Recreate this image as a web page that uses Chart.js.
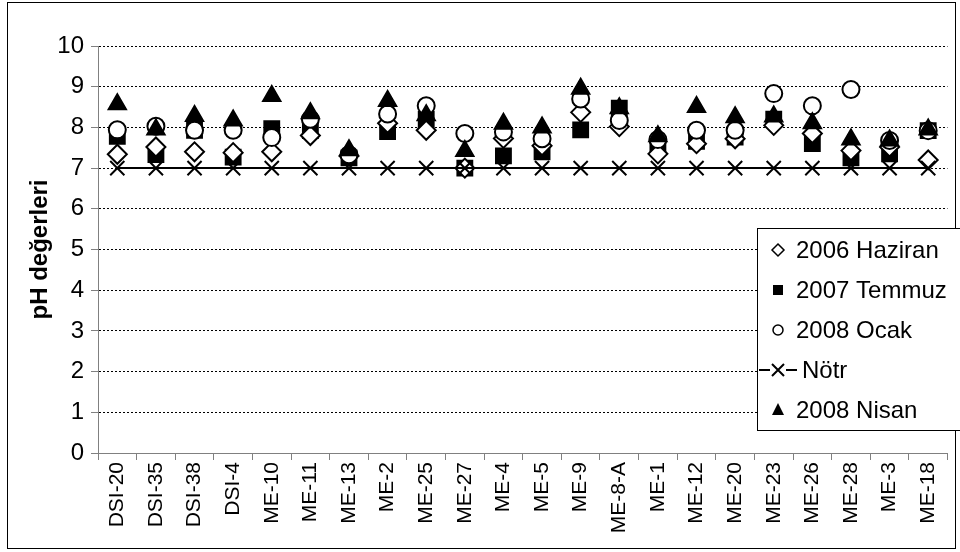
<!DOCTYPE html>
<html>
<head>
<meta charset="utf-8">
<script src="https://cdn.jsdelivr.net/npm/chart.js@4/dist/chart.umd.min.js"></script>
<style>
  body { margin: 0; background: #fff; }
  #frame { position: absolute; left: 7px; top: 2px; width: 947px; height: 545px; border: 1px solid #000; }
  canvas { position: absolute; left: 0; top: 0; }
</style>
</head>
<body>
<div id="frame"></div>
<canvas id="myChart" width="960" height="552"></canvas>
<script>
const stations = ['DSI-20','DSI-35','DSI-38','DSI-4','ME-10','ME-11','ME-13','ME-2','ME-25','ME-27','ME-4',
  'ME-5','ME-9','ME-8-A','ME-1','ME-12','ME-20','ME-23','ME-26','ME-28','ME-3','ME-18'];
const haziran2006 = [7.34,7.52,7.4,7.38,7.4,7.8,7.3,8.1,7.93,7.0,7.73,7.55,8.37,8.02,7.35,7.6,7.72,8.05,7.85,7.43,7.52,7.2];
const temmuz2007 = [7.78,7.33,7.93,7.27,7.97,7.92,7.25,7.9,8.2,7.0,7.3,7.4,7.94,8.47,7.57,7.66,7.76,8.2,7.6,7.25,7.35,7.92];
const ocak2008 = [7.94,8.03,7.93,7.93,7.75,8.2,7.33,8.33,8.53,7.85,7.89,7.72,8.7,8.17,7.7,7.93,7.93,8.83,8.53,8.93,7.68,7.92];
const notr = [7,7,7,7,7,7,7,7,7,7,7,7,7,7,7,7,7,7,7,7,7,7];
const nisan2008 = [8.57,7.95,8.28,8.17,8.77,8.35,7.44,8.65,8.3,7.42,8.09,8.0,8.95,8.47,7.78,8.5,8.25,8.27,8.1,7.7,7.68,7.95];
const yTicks = [0,1,2,3,4,5,6,7,8,9,10];
const legendLabels = ['2006 Haziran','2007 Temmuz','2008 Ocak','Nötr','2008 Nisan'];

const FONT = '"Liberation Sans", Arial, sans-serif';

// legend drawn by hand, it sits inside the plot on the right
const legendBox = {
  id: 'legendBox',
  afterDraw(chart) {
    const ctx = chart.ctx;
    const x0 = 757, y0 = 228, w = 210, h = 202, step = 40;
    ctx.save();
    ctx.fillStyle = '#fff';
    ctx.strokeStyle = '#000';
    ctx.lineWidth = 1;
    ctx.fillRect(x0, y0, w, h);
    ctx.strokeRect(x0 + 0.5, y0 + 0.5, w, h);
    ctx.font = '24px ' + FONT;
    ctx.textBaseline = 'middle';
    legendLabels.forEach((label, i) => {
      const cy = y0 + 22 + i * step;
      const mx = 778;
      ctx.fillStyle = '#000';
      ctx.strokeStyle = '#000';
      ctx.lineWidth = 1.5;
      ctx.beginPath();
      if (i === 0) {
        ctx.moveTo(mx, cy - 6); ctx.lineTo(mx + 6, cy); ctx.lineTo(mx, cy + 6); ctx.lineTo(mx - 6, cy); ctx.closePath();
        ctx.fillStyle = '#fff'; ctx.fill(); ctx.stroke();
      } else if (i === 1) {
        ctx.rect(mx - 5, cy - 5, 10, 10); ctx.fill();
      } else if (i === 2) {
        ctx.arc(mx, cy, 5, 0, Math.PI * 2); ctx.fillStyle = '#fff'; ctx.fill(); ctx.stroke();
      } else if (i === 3) {
        ctx.lineWidth = 2;
        ctx.moveTo(759, cy); ctx.lineTo(770, cy);
        ctx.moveTo(786, cy); ctx.lineTo(797, cy);
        ctx.moveTo(mx - 6, cy - 6); ctx.lineTo(mx + 6, cy + 6);
        ctx.moveTo(mx + 6, cy - 6); ctx.lineTo(mx - 6, cy + 6);
        ctx.stroke();
      } else {
        ctx.moveTo(mx, cy - 7); ctx.lineTo(mx + 6, cy + 5); ctx.lineTo(mx - 6, cy + 5); ctx.closePath(); ctx.fill();
      }
      ctx.fillStyle = '#000';
      ctx.fillText(label, i === 3 ? 802 : 796, cy + 1);
    });
    ctx.restore();
  }
};

const markerSet = (label, data, style, fill, radius, order) => ({
  label, data, order,
  showLine: false,
  pointStyle: style,
  pointRadius: radius,
  pointHoverRadius: radius,
  pointBackgroundColor: fill,
  pointBorderColor: '#000',
  pointBorderWidth: 2,
  borderColor: '#000',
  backgroundColor: fill
});

const ctx = document.getElementById('myChart').getContext('2d');
new Chart(ctx, {
  type: 'line',
  data: {
    labels: stations,
    datasets: [
      markerSet('2006 Haziran', haziran2006, 'rectRot', '#fff', 9.5, 3),
      markerSet('2007 Temmuz', temmuz2007, 'rect', '#000', 10.5, 4),
      markerSet('2008 Ocak', ocak2008, 'circle', '#fff', 8.5, 2),
      {
        label: 'Nötr', data: notr, order: 1,
        borderColor: '#000', borderWidth: 2, tension: 0,
        pointStyle: 'crossRot', pointRadius: 10, pointBorderWidth: 2,
        pointBorderColor: '#000', pointBackgroundColor: '#000'
      },
      markerSet('2008 Nisan', nisan2008, 'triangle', '#000', 10, 0)
    ]
  },
  options: {
    responsive: false,
    animation: false,
    layout: { padding: { left: 8, top: 46, right: 9, bottom: 0 } },
    plugins: { legend: { display: false }, tooltip: { enabled: false } },
    scales: {
      x: {
        type: 'category',
        offset: true,
        afterFit: s => { s.height = 99; },
        grid: { drawOnChartArea: false, offset: true, tickLength: 7, tickColor: '#808080' },
        border: { color: '#808080', width: 1 },
        ticks: {
          color: '#000', autoSkip: false, minRotation: 90, maxRotation: 90, padding: 2,
          font: { family: FONT, size: 21 }
        }
      },
      y: {
        min: 0, max: 10,
        afterFit: s => { s.width = 90; },
        afterBuildTicks: s => { s.ticks = yTicks.map(v => ({ value: v })); },
        grid: {
          color: c => (c.tick && c.tick.value === 0 ? 'rgba(0,0,0,0)' : '#000'),
          tickColor: '#808080', tickLength: 7, lineWidth: 1
        },
        border: { color: '#808080', width: 1, dash: [2, 2] },
        ticks: {
          color: '#000', padding: 7,
          font: { family: FONT, size: 24 }
        },
        title: {
          display: true, text: 'pH değerleri', color: '#000',
          padding: { top: 18, bottom: 0 },
          font: { family: FONT, size: 24, weight: 'bold' }
        }
      }
    }
  },
  plugins: [legendBox]
});
</script>
</body>
</html>
